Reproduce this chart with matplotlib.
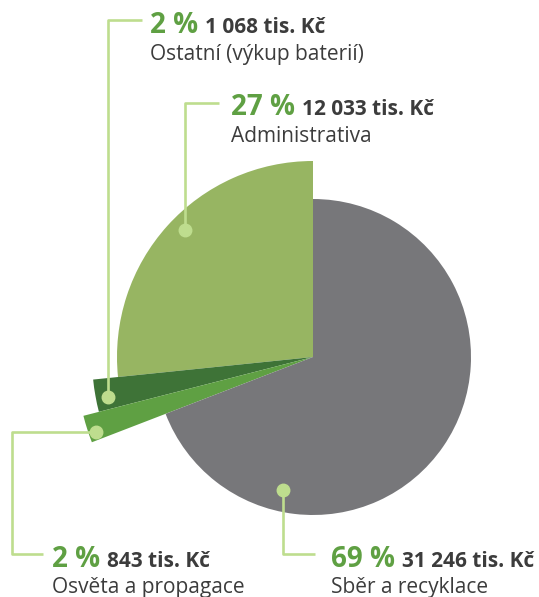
import matplotlib
matplotlib.use("Agg")
import matplotlib.pyplot as plt

# data (tis. Kč)
labels = ["Administrativa", "Ostatní (výkup baterií)", "Osvěta a propagace", "Sběr a recyklace"]
values = [12033, 1068, 843, 31246]
percents = ["27 %", "2 %", "2 %", "69 %"]
value_texts = ["12 033 tis. Kč", "1 068 tis. Kč", "843 tis. Kč", "31 246 tis. Kč"]

colors = ["#97b562", "#3e7337", "#5fa043", "#77777a"]
radii = [196, 221, 237, 158]
line_color = "#bedd8e"
green_text = "#5fa043"
dark_text = "#3c3c3c"

W, H = 539, 597
fig = plt.figure(figsize=(W / 100, H / 100), dpi=100)
ax = fig.add_axes([0, 0, 1, 1])
ax.set_xlim(0, W)
ax.set_ylim(0, H)
ax.set_aspect("equal")
ax.axis("off")

cx, cy = 313, H - 357
wedges, _ = ax.pie(values, colors=colors, startangle=90, counterclock=True,
                   center=(cx, cy), radius=158, frame=True)
for w, r in zip(wedges, radii):
    w.set_radius(r)
ax.set_xlim(0, W)
ax.set_ylim(0, H)
ax.axis("off")

plt.rcParams["font.family"] = ["Open Sans", "DejaVu Sans"]

def py(y):
    return H - y

# leader lines: (points in pixel coords from top), text x, baseline1, baseline2
leaders = [
    ([(185, 230), (185, 103), (219, 103)], 231, 115, 142),
    ([(108, 397), (108, 20), (142, 20)], 150, 33, 60),
    ([(96, 432), (12, 432), (12, 554), (43, 554)], 52, 567, 593),
    ([(283, 490), (283, 554), (315, 554)], 331, 567, 593),
]

fig.canvas.draw()
renderer = fig.canvas.get_renderer()

for i, (pts, tx, b1, b2) in enumerate(leaders):
    xs = [p[0] for p in pts]
    ys = [py(p[1]) for p in pts]
    ax.plot(xs, ys, color=line_color, lw=1.9, solid_capstyle="butt", zorder=3)
    ax.plot(xs[0], ys[0], "o", color=line_color, ms=9, zorder=4)
    t = ax.text(tx, py(b1), percents[i], color=green_text, fontsize=20,
                fontweight="bold", va="baseline", ha="left")
    bb = t.get_window_extent(renderer)
    ax.text(bb.x1 + 7, py(b1), value_texts[i], color=dark_text, fontsize=15,
            fontweight="bold", va="baseline", ha="left")
    ax.text(tx, py(b2), labels[i], color=dark_text, fontsize=15,
            va="baseline", ha="left")

fig.savefig("out.png", dpi=100)
